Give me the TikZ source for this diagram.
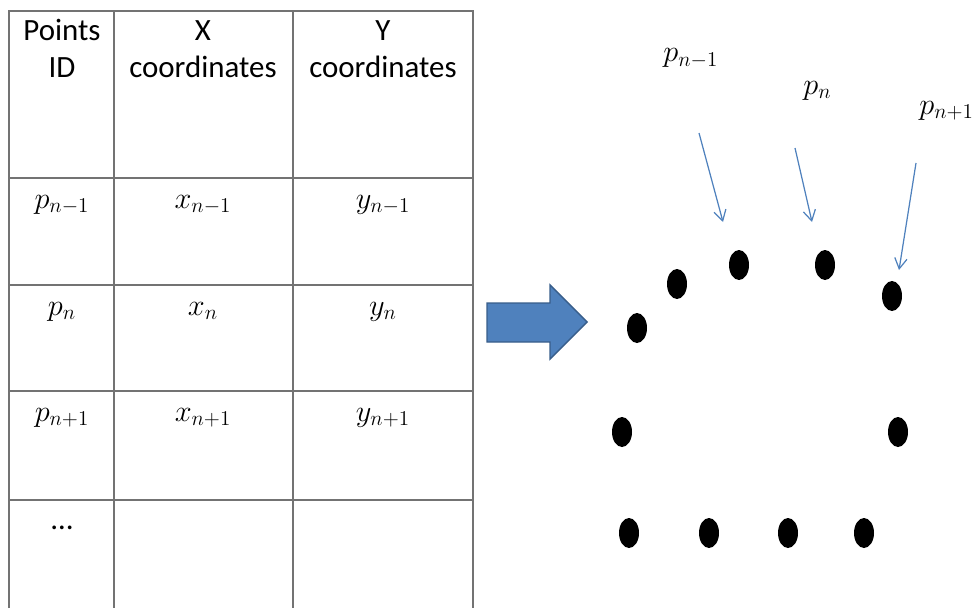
\documentclass[tikz,border=0pt]{standalone}
\usepackage{fontspec}
\setmainfont{Carlito}
\usepackage{xcolor}
\usepackage{tikz}
\usetikzlibrary{arrows.meta}
\usepackage{amsmath, amssymb}

\definecolor{azul}{HTML}{4F81BD}
\definecolor{azulborde}{HTML}{385D8A}

\begin{document}
\begin{tikzpicture}[x=0.02cm, y=-0.02cm,
  linea/.style={draw=black!55, line width=0.9pt},
  hdr/.style={anchor=base, inner sep=0pt, font=\fontsize{17.6}{21}\selectfont},
  celda/.style={anchor=base, inner sep=0pt, font=\fontsize{18.5}{22}\selectfont},
  punto/.style={fill=black},
  flechita/.style={draw=azul, line width=0.7pt, -{Straight Barb[length=6pt, width=7pt]}}]

% Marco de la imagen
\clip (0,0) rectangle (976,608);
\useasboundingbox (0,0) rectangle (976,608);

% Tabla de puntos
\draw[linea] (9,608) -- (9,11) -- (473,11) -- (473,608);
\draw[linea] (114,11) -- (114,608);
\draw[linea] (293,11) -- (293,608);
\draw[linea] (9,178) -- (473,178);
\draw[linea] (9,285) -- (473,285);
\draw[linea] (9,391) -- (473,391);
\draw[linea] (9,500) -- (473,500);

% Encabezados
\node (idA) at (62,41)[hdr] {Points};
\node (idB) at (62,78)[hdr] {ID};
\node (xA) at (203,41)[hdr] {X};
\node (xB) at (203,78)[hdr] {coordinates};
\node (yA) at (383,41)[hdr] {Y};
\node (yB) at (383,78)[hdr] {coordinates};

% Filas
\node (pA) at (62,208)[celda] {$p_{n-1}$};
\node (xpA) at (203,208)[celda] {$x_{n-1}$};
\node (ypA) at (383,208)[celda] {$y_{n-1}$};
\node (pB) at (62,315)[celda] {$p_{n}$};
\node (xpB) at (203,315)[celda] {$x_{n}$};
\node (ypB) at (383,315)[celda] {$y_{n}$};
\node (pC) at (62,421)[celda] {$p_{n+1}$};
\node (xpC) at (203,421)[celda] {$x_{n+1}$};
\node (ypC) at (383,421)[celda] {$y_{n+1}$};
\node (pD) at (62,529)[hdr] {\ldots};

% Flecha gruesa
\draw[fill=azul, draw=azulborde, line width=0.8pt]
  (487,303) -- (550,303) -- (550,285) -- (587,322) -- (550,359)
  -- (550,342) -- (487,342) -- cycle;

% Puntos del contorno
\fill[punto] (637,328) ellipse [x radius=10, y radius=15];
\fill[punto] (677,284) ellipse [x radius=10, y radius=15];
\fill[punto] (739,265) ellipse [x radius=10, y radius=15];
\fill[punto] (825,265) ellipse [x radius=10, y radius=15];
\fill[punto] (892,296) ellipse [x radius=10, y radius=15];
\fill[punto] (622,432) ellipse [x radius=10, y radius=15];
\fill[punto] (898,432) ellipse [x radius=10, y radius=15];
\fill[punto] (629,533) ellipse [x radius=10, y radius=15];
\fill[punto] (709,533) ellipse [x radius=10, y radius=15];
\fill[punto] (788,533) ellipse [x radius=10, y radius=15];
\fill[punto] (864,533) ellipse [x radius=10, y radius=15];

% Etiquetas de los puntos
\node (lpA) at (663,62)[celda, anchor=base west] {$p_{n-1}$};
\node (lpB) at (803,94)[celda, anchor=base west] {$p_{n}$};
\node (lpC) at (919,114)[celda, anchor=base west] {$p_{n+1}$};

% Flechas finas
\coordinate (iniA) at (699,133);
\coordinate (finA) at (723,222);
\coordinate (iniB) at (795,148);
\coordinate (finB) at (812,222);
\coordinate (iniC) at (916,163);
\coordinate (finC) at (899,270);
\draw[flechita] (iniA) -- (finA);
\draw[flechita] (iniB) -- (finB);
\draw[flechita] (iniC) -- (finC);

\end{tikzpicture}
\end{document}
